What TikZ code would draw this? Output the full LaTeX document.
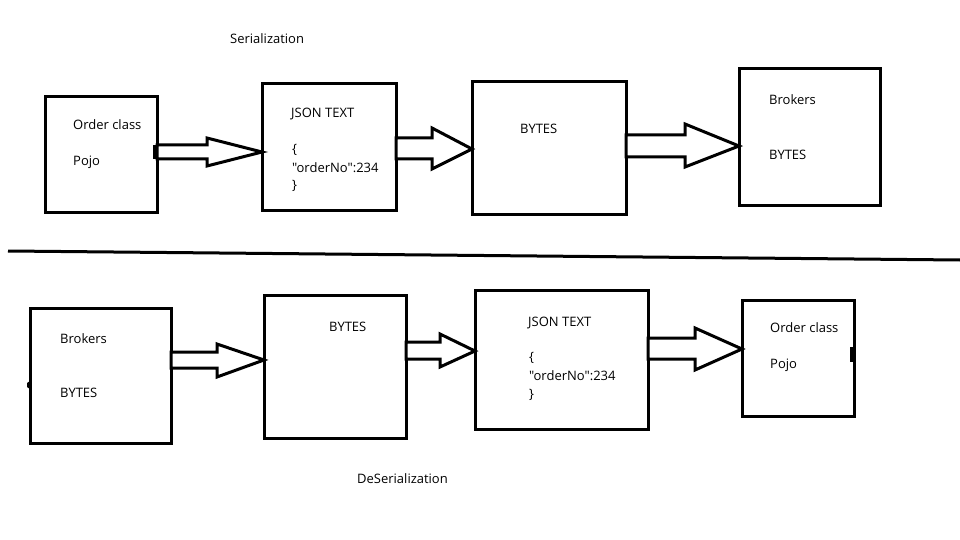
\documentclass[tikz,border=0pt]{standalone}
\usepackage{fontspec}
\newfontfamily\osans{Open Sans}
\begin{document}
\begin{tikzpicture}[x=1pt,y=-1pt,
  box/.style={draw=black,line width=3pt,rectangle,inner sep=0pt,outer sep=0pt},
  blockarrow/.style={draw=black,fill=white,line width=3pt,line join=miter},
  lbl/.style={anchor=base west,inner sep=0pt,font=\osans\fontsize{13}{15}\selectfont},
  tickmark/.style={fill=black}]
\useasboundingbox (0,0) rectangle (960,540);
% title
\node[lbl] (t1) at (230,43.5) {Serialization};
\node[lbl] (t2) at (357,483.5) {DeSerialization};
% separator
\coordinate (sepL) at (8,251);
\coordinate (sepR) at (960,260);
\draw[line width=3pt] (sepL) -- (sepR);
% top row boxes
\node[box,minimum width=112,minimum height=115] (oc1) at (101,154.5) {};
\node[box,minimum width=134,minimum height=126] (js1) at (329,147) {};
\node[box,minimum width=154,minimum height=132] (by1) at (549,148) {};
\node[box,minimum width=141,minimum height=136] (br1) at (809.5,137) {};
% bottom row boxes
\node[box,minimum width=141,minimum height=135] (br2) at (100.5,375.5) {};
\node[box,minimum width=142,minimum height=143] (by2) at (335,366.5) {};
\node[box,minimum width=173,minimum height=139] (js2) at (561.5,359.5) {};
\node[box,minimum width=112,minimum height=116] (oc2) at (798,358) {};
% top arrows
\draw[blockarrow] (oc1.east |- 0,145) -- (207,145) -- (207,138) -- (js1.west |- 0,152) -- (207,166) -- (207,159) -- (oc1.east |- 0,159) -- cycle;
\draw[blockarrow] (js1.east |- 0,138) -- (432,138) -- (432,128) -- (by1.west |- 0,149) -- (432,169) -- (432,159) -- (js1.east |- 0,159) -- cycle;
\draw[blockarrow] (by1.east |- 0,135) -- (685,135) -- (685,124) -- (br1.west |- 0,146) -- (685,167) -- (685,157) -- (by1.east |- 0,157) -- cycle;
% bottom arrows
\draw[blockarrow] (br2.east |- 0,352) -- (217,352) -- (217,344) -- (by2.west |- 0,360) -- (217,377) -- (217,368) -- (br2.east |- 0,368) -- cycle;
\draw[blockarrow] (by2.east |- 0,342) -- (440,342) -- (440,334) -- (js2.west |- 0,351) -- (440,367) -- (440,359) -- (by2.east |- 0,359) -- cycle;
\draw[blockarrow] (js2.east |- 0,338) -- (695,338) -- (695,328) -- (oc2.west |- 0,349) -- (695,370) -- (695,359) -- (js2.east |- 0,359) -- cycle;
% small marks
\fill[tickmark] (153,145) rectangle (157,159);
\fill[tickmark] (br2.west |- 0,381) -- ++(-3,2) -- ++(0,4) -- ++(3,2) -- cycle;
\fill[tickmark] (850,347) rectangle (856,362);
% top texts
\node[lbl] (oc1a) at (73,129.5) {Order class};
\node[lbl] (oc1b) at (73,165.5) {Pojo};
\node[lbl] (js1a) at (291,117.5) {JSON TEXT};
\node[lbl] (js1b) at (292,153.5) {\{};
\node[lbl] (js1c) at (292,172.5) {"orderNo":234};
\node[lbl] (js1d) at (292,189.5) {\}};
\node[lbl] (by1a) at (520,133.5) {BYTES};
\node[lbl] (br1a) at (769,104.5) {Brokers};
\node[lbl] (br1b) at (769,159.5) {BYTES};
% bottom texts
\node[lbl] (br2a) at (60,343.5) {Brokers};
\node[lbl] (br2b) at (60,397.5) {BYTES};
\node[lbl] (by2a) at (329,331.5) {BYTES};
\node[lbl] (js2a) at (528,326.5) {JSON TEXT};
\node[lbl] (js2b) at (529,361.5) {\{};
\node[lbl] (js2c) at (529,380.5) {"orderNo":234};
\node[lbl] (js2d) at (529,398.5) {\}};
\node[lbl] (oc2a) at (770,332.5) {Order class};
\node[lbl] (oc2b) at (770,368.5) {Pojo};
\end{tikzpicture}
\end{document}
